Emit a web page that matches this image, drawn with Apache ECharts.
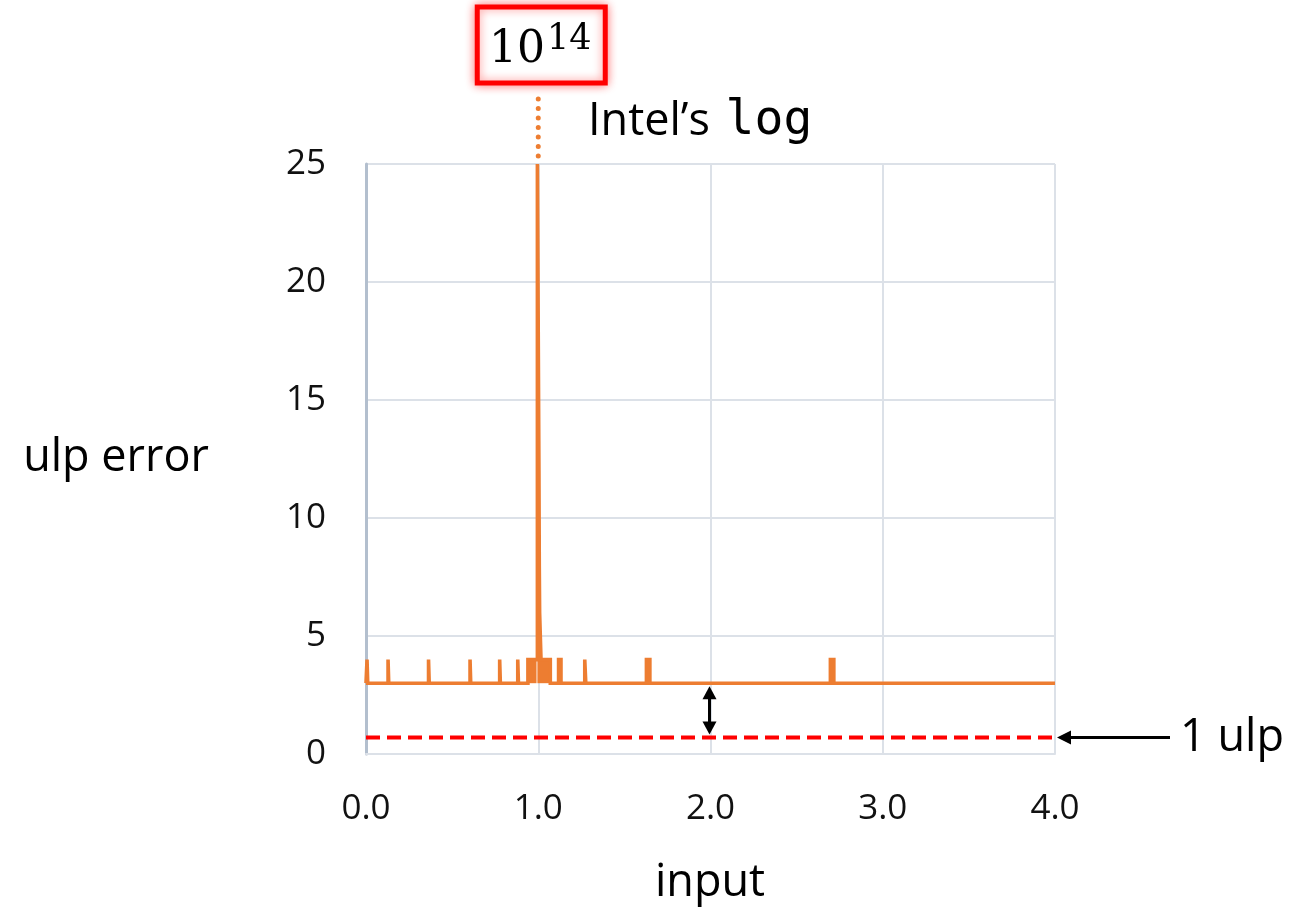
<!DOCTYPE html>
<html>
<head>
<meta charset="utf-8">
<script src="https://cdn.jsdelivr.net/npm/echarts@6/dist/echarts.min.js"></script>
<style>
html,body{margin:0;padding:0;background:#fff;}
#chart{width:1292px;height:910px;}
</style>
</head>
<body>
<div id="chart"></div>
<script>
// ---- data ----
// polyline vertices of Intel's log ulp error (x = input, y = ulp error; 25 = clipped top, true value ~1e14)
const errX = [0, 0.006, 0.006, 0.010, 0.010,
  0.128, 0.128, 0.132, 0.132,
  0.363, 0.363, 0.367, 0.367,
  0.604, 0.604, 0.608, 0.608,
  0.776, 0.776, 0.780, 0.780,
  0.881, 0.881, 0.885, 0.885,
  0.940, 0.940, 0.995, 0.995, 1.004, 1.004, 1.006, 1.006, 1.008, 1.008, 1.012, 1.012, 1.016, 1.016, 1.070, 1.070,
  1.118, 1.118, 1.132, 1.132,
  1.270, 1.270, 1.276, 1.276,
  1.628, 1.628, 1.648, 1.648,
  2.696, 2.696, 2.716, 2.716,
  4.0];
const errY = [3, 3, 4, 4, 3,
  3, 4, 4, 3,
  3, 4, 4, 3,
  3, 4, 4, 3,
  3, 4, 4, 3,
  3, 4, 4, 3,
  3, 4, 4, 25, 25, 12, 12, 8, 8, 6, 6, 5, 5, 4, 4, 3,
  3, 4, 4, 3,
  3, 4, 4, 3,
  3, 4, 4, 3,
  3, 4, 4, 3,
  3];
// dense clusters of error spikes near 1.0 that read as solid blocks: [from, to, low, high]
const blockFrom = [0.940, 0.995, 1.118];
const blockTo   = [0.990, 1.070, 1.132];
const blockLow  = [3, 3, 3];
const blockHigh = [4, 4, 4];
const ulpX = [0, 4];
const ulpY = [0.7, 0.7];
const xTicks = [0, 1, 2, 3, 4];
const yTicks = [0, 5, 10, 15, 20, 25];
const peakX = 1.0;
const peakLabel = {base: '10', exp: '14'};

const chart = echarts.init(document.getElementById('chart'), null, {renderer: 'canvas'});
const FONT = '"Open Sans", "Noto Sans", sans-serif';
const orange = '#ED7D31';
const gridColor = '#DCE1E8';

const option = {
  animation: false,
  backgroundColor: '#ffffff',
  grid: {left: 366, right: 237, top: 164, bottom: 156, containLabel: false},
  xAxis: {
    type: 'value', min: xTicks[0], max: xTicks[xTicks.length - 1], interval: 1,
    axisLine: {show: true, lineStyle: {color: gridColor, width: 2}},
    axisTick: {show: false},
    splitLine: {show: true, lineStyle: {color: gridColor, width: 2}},
    axisLabel: {margin: 38, fontFamily: FONT, fontSize: 35, color: '#111',
      formatter: v => Number(v).toFixed(1)}
  },
  yAxis: {
    type: 'value', min: yTicks[0], max: yTicks[yTicks.length - 1], interval: 5,
    axisLine: {show: true, lineStyle: {color: '#B3BFCE', width: 3}},
    axisTick: {show: false},
    splitLine: {show: true, lineStyle: {color: gridColor, width: 2}},
    axisLabel: {margin: 40, fontFamily: FONT, fontSize: 35, color: '#111'}
  },
  series: [
    {
      type: 'line', name: 'ulp', symbol: 'none', silent: true, z: 3,
      data: ulpX.map((x, i) => [x, ulpY[i]]),
      lineStyle: {color: '#FF0000', width: 4, type: [14, 7]}
    },
    {
      type: 'line', name: "Intel's log", symbol: 'none', silent: true, z: 4,
      data: errX.map((x, i) => [x, errY[i]]),
      lineStyle: {color: orange, width: 3.6, join: 'miter'}
    },
    {
      type: 'custom', name: 'clusters', silent: true, z: 4,
      data: blockFrom.map((f, i) => [f, blockTo[i], blockLow[i], blockHigh[i]]),
      renderItem: function (params, api) {
        const p0 = api.coord([api.value(0), api.value(3)]);
        const p1 = api.coord([api.value(1), api.value(2)]);
        return {type: 'rect', shape: {x: p0[0], y: p0[1], width: p1[0] - p0[0], height: p1[1] - p0[1]},
          style: {fill: orange}};
      }
    }
  ]
};
chart.setOption(option);

function drawAnnotations() {
  const top = chart.convertToPixel({gridIndex: 0}, [peakX, 25]);
  const p3 = chart.convertToPixel({gridIndex: 0}, [2, 3]);
  const p07 = chart.convertToPixel({gridIndex: 0}, [2, ulpY[0]]);
  const pEnd = chart.convertToPixel({gridIndex: 0}, [4, ulpY[0]]);
  const boxCx = top[0] + 3;
  const g = [];
  // dotted leader from spike top to the label box
  g.push({type: 'line', shape: {x1: top[0], y1: top[1] - 8, x2: top[0], y2: 90},
    style: {stroke: orange, lineWidth: 5, lineCap: 'round', lineDash: [0, 9.5]}});
  // red box with glow
  g.push({type: 'rect', shape: {x: boxCx - 64, y: 7, width: 128, height: 76},
    style: {fill: '#fff', stroke: '#FF0000', lineWidth: 5, shadowBlur: 10, shadowColor: 'rgba(255,0,0,0.45)'}});
  g.push({type: 'text', x: boxCx - 1, y: 46,
    style: {text: '{b|' + peakLabel.base + '}{e|' + peakLabel.exp + '}', align: 'center', verticalAlign: 'middle',
      rich: {
        b: {fontFamily: '"DejaVu Serif", serif', fontSize: 44, fill: '#000', padding: [10, 2, 0, 0]},
        e: {fontFamily: '"DejaVu Serif", serif', fontSize: 35, fill: '#000', padding: [0, 0, 12, 0]}
      }}});
  // series label
  g.push({type: 'text', x: 588, y: 122,
    style: {text: "{a|Intel’s }{m|log}", align: 'left', verticalAlign: 'middle',
      rich: {
        a: {fontFamily: FONT, fontSize: 45, fill: '#000', padding: [0, 4, 0, 0]},
        m: {fontFamily: '"DejaVu Sans Mono", monospace', fontSize: 48, fill: '#000'}
      }}});
  // axis titles
  g.push({type: 'text', x: 116, y: 458,
    style: {text: 'ulp error', fontFamily: FONT, fontSize: 45, fill: '#000', align: 'center', verticalAlign: 'middle'}});
  g.push({type: 'text', x: 710, y: 883,
    style: {text: 'input', fontFamily: FONT, fontSize: 45, fill: '#000', align: 'center', verticalAlign: 'middle'}});
  // 1 ulp label + arrow
  g.push({type: 'text', x: 1180, y: 738,
    style: {text: '1 ulp', fontFamily: FONT, fontSize: 45, fill: '#000', align: 'left', verticalAlign: 'middle'}});
  g.push({type: 'line', shape: {x1: pEnd[0] + 14, y1: pEnd[1], x2: 1170, y2: pEnd[1]},
    style: {stroke: '#000', lineWidth: 3}});
  g.push({type: 'polygon', shape: {points: [[pEnd[0] + 2, pEnd[1]], [pEnd[0] + 16, pEnd[1] - 7], [pEnd[0] + 16, pEnd[1] + 7]]},
    style: {fill: '#000'}});
  // double arrow between baseline and 1 ulp
  const ax = p3[0] - 1;
  g.push({type: 'line', shape: {x1: ax, y1: p3[1] + 14, x2: ax, y2: p07[1] - 14},
    style: {stroke: '#000', lineWidth: 3}});
  g.push({type: 'polygon', shape: {points: [[ax, p3[1] + 3], [ax - 7, p3[1] + 16], [ax + 7, p3[1] + 16]]},
    style: {fill: '#000'}});
  g.push({type: 'polygon', shape: {points: [[ax, p07[1] - 3], [ax - 7, p07[1] - 16], [ax + 7, p07[1] - 16]]},
    style: {fill: '#000'}});
  chart.setOption({graphic: g});
}
drawAnnotations();
</script>
</body>
</html>
